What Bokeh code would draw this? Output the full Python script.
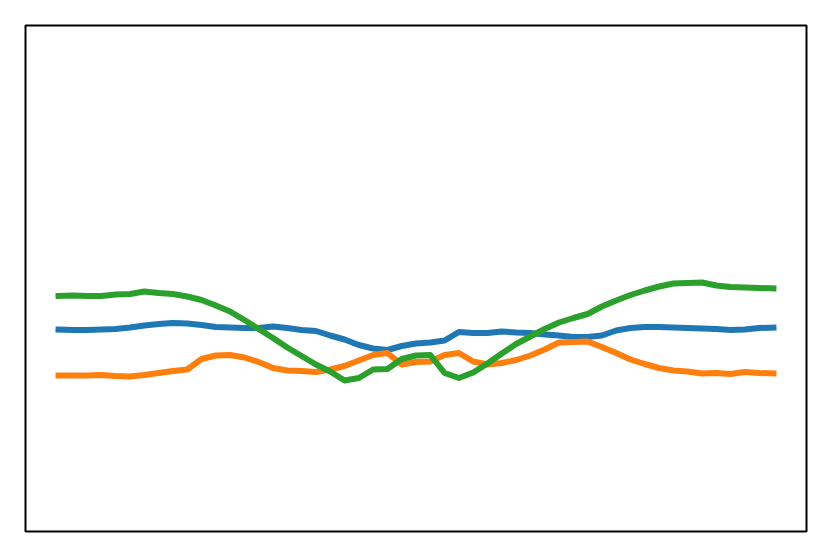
from bokeh.plotting import figure
from bokeh.models import Range1d
from bokeh.embed import file_html
from bokeh.resources import INLINE

x = list(range(51))

blue = [20.2, 20.15, 20.15, 20.2, 20.25, 20.4, 20.6, 20.75, 20.85, 20.8,
        20.65, 20.45, 20.4, 20.35, 20.35, 20.5, 20.35, 20.15, 20.05, 19.6,
        19.2, 18.65, 18.3, 18.15, 18.55, 18.8, 18.9, 19.1, 19.95, 19.85,
        19.85, 20.0, 19.9, 19.85, 19.7, 19.6, 19.45, 19.45, 19.6, 20.1,
        20.35, 20.45, 20.45, 20.4, 20.35, 20.3, 20.25, 20.15, 20.2, 20.35, 20.4]

orange = [15.6, 15.6, 15.6, 15.65, 15.55, 15.5, 15.65, 15.85, 16.05, 16.2,
          17.25, 17.6, 17.65, 17.4, 16.95, 16.35, 16.1, 16.05, 15.95, 16.2,
          16.55, 17.1, 17.65, 17.85, 16.7, 16.95, 17.0, 17.65, 17.85, 17.0,
          16.7, 16.85, 17.15, 17.6, 18.2, 18.9, 18.95, 19.0, 18.45, 17.85,
          17.2, 16.75, 16.35, 16.1, 16.0, 15.8, 15.85, 15.75, 15.95, 15.85, 15.8]

green = [23.55, 23.6, 23.55, 23.55, 23.7, 23.75, 24.0, 23.85, 23.75, 23.5,
         23.15, 22.6, 22.0, 21.15, 20.25, 19.35, 18.4, 17.55, 16.7, 16.0,
         15.1, 15.35, 16.2, 16.25, 17.25, 17.6, 17.65, 15.85, 15.35, 15.9,
         16.8, 17.8, 18.75, 19.5, 20.25, 20.9, 21.35, 21.75, 22.5, 23.1,
         23.65, 24.1, 24.5, 24.8, 24.85, 24.9, 24.6, 24.45, 24.4, 24.35, 24.3]

series = [(blue, "#1f77b4"), (orange, "#ff7f0e"), (green, "#2ca02c")]

p = figure(width=831, height=557, output_backend="svg", toolbar_location=None,
           x_range=Range1d(-2.31, 52.31), y_range=Range1d(0, 50.6),
           min_border_left=25, min_border_right=25, min_border_top=25, min_border_bottom=26)
p.axis.visible = False
p.grid.visible = False
p.outline_line_color = "black"
p.outline_line_width = 2
p.background_fill_color = "white"
p.border_fill_color = "white"

for ys, c in series:
    p.line(x, ys, line_color=c, line_width=6, line_join="round", line_cap="square")

open("out.html", "w").write(file_html(p, INLINE))
